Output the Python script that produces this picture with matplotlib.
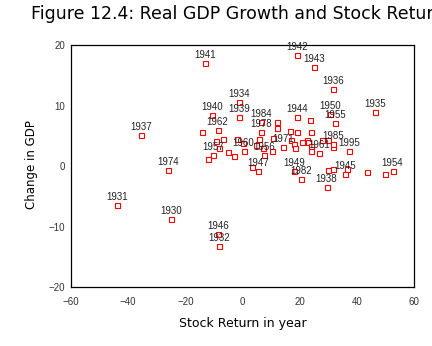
import matplotlib
matplotlib.use("Agg")
from matplotlib import pyplot as plt

# labelled years: (stock return %, change in real GDP %)
label_years = [1930, 1931, 1932, 1934, 1935, 1936, 1937, 1938, 1939, 1940,
               1941, 1942, 1943, 1944, 1945, 1946, 1947, 1949, 1950, 1954,
               1955, 1956, 1957, 1960, 1961, 1962, 1971, 1974, 1978, 1982,
               1984, 1985, 1995]
label_ret = [-25.1, -43.8, -8.3, -1.3, 46.5, 31.8, -35.4, 29.4, -1.2, -10.7,
             -13.0, 19.2, 25.0, 19.0, 35.8, -8.6, 5.3, 18.0, 30.6, 52.5,
             32.5, 7.6, -10.3, 0.4, 26.7, -8.7, 14.1, -26.1, 6.5, 20.4,
             6.4, 31.7, 37.2]
label_gdp = [-8.8, -6.5, -13.2, 10.6, 8.9, 12.8, 5.1, -3.5, 8.1, 8.4,
             17.0, 18.3, 16.3, 8.1, -1.3, -11.2, -0.9, -0.8, 8.65, -0.8,
             7.1, 1.9, 1.8, 2.4, 2.2, 6.0, 3.1, -0.7, 5.6, -2.2,
             7.2, 3.7, 2.4]

# the other years, plotted without a label
other_ret = [-14.2, -6.9, -9.3, -8.1, -12.0, -5.0, -3.1, -1.8, 0.2, 3.3,
             5.8, 4.6, 7.3, 10.2, 10.6, 12.0, 12.2, 16.6, 19.0, 23.9,
             23.6, 16.9, 18.0, 18.3, 20.8, 22.5, 22.9, 24.1, 23.9, 27.8,
             29.9, 31.6, 29.9, 31.6, 36.7, 43.7, 50.0]
other_gdp = [5.7, 4.4, 4.1, 2.9, 1.1, 2.3, 1.65, 4.5, 3.8, -0.1,
             4.5, 3.4, 2.9, 2.5, 4.7, 7.2, 6.3, 5.8, 5.6, 5.6,
             7.55, 4.25, 3.6, 3.0, 3.9, 4.25, 4.0, 3.25, 2.4, 4.3,
             4.3, 3.2, -0.65, -0.45, -0.45, -1.0, -1.4]

xticks = [-60, -40, -20, 0, 20, 40, 60]
yticks = [-20, -10, 0, 10, 20]

fig = plt.figure(figsize=(4.32, 3.46), dpi=100)
ax = fig.add_axes([0.1644, 0.1705, 0.794, 0.6994])

mk = dict(ls="none", marker="s", ms=3.6, mfc="white", mec="red", mew=0.8)
ax.plot(other_ret, other_gdp, **mk)
ax.plot(label_ret, label_gdp, **mk)
for yr, x, y in zip(label_years, label_ret, label_gdp):
    ax.annotate(str(yr), (x, y), xytext=(0, 3.6), textcoords="offset points",
                ha="center", va="baseline", fontsize=7, color="#222222",
                family="Liberation Sans")

ax.set_xlim(-60, 60)
ax.set_ylim(-20, 20)
ax.set_xticks(xticks)
ax.set_yticks(yticks)
ax.tick_params(length=0, labelsize=7, labelcolor="#333333")
ax.tick_params(axis="x", pad=7)
ax.tick_params(axis="y", pad=4)
for lab in ax.get_xticklabels() + ax.get_yticklabels():
    lab.set_family("Liberation Sans")
for s in ax.spines.values():
    s.set_linewidth(0.9)
    s.set_color("black")

fig.text(0.5614, 1 - 19/346, "Figure 12.4: Real GDP Growth and Stock Returns",
         ha="center", va="baseline", fontsize=12.5, family="DejaVu Sans")
fig.text(0.5614, 1 - 327/346, "Stock Return in year", ha="center",
         va="baseline", fontsize=9, family="DejaVu Sans")
fig.text(32/432, 1 - 165/346, "Change in GDP", ha="center", va="center",
         rotation=90, fontsize=8.5, family="DejaVu Sans")

plt.savefig("out.png", dpi=100)
